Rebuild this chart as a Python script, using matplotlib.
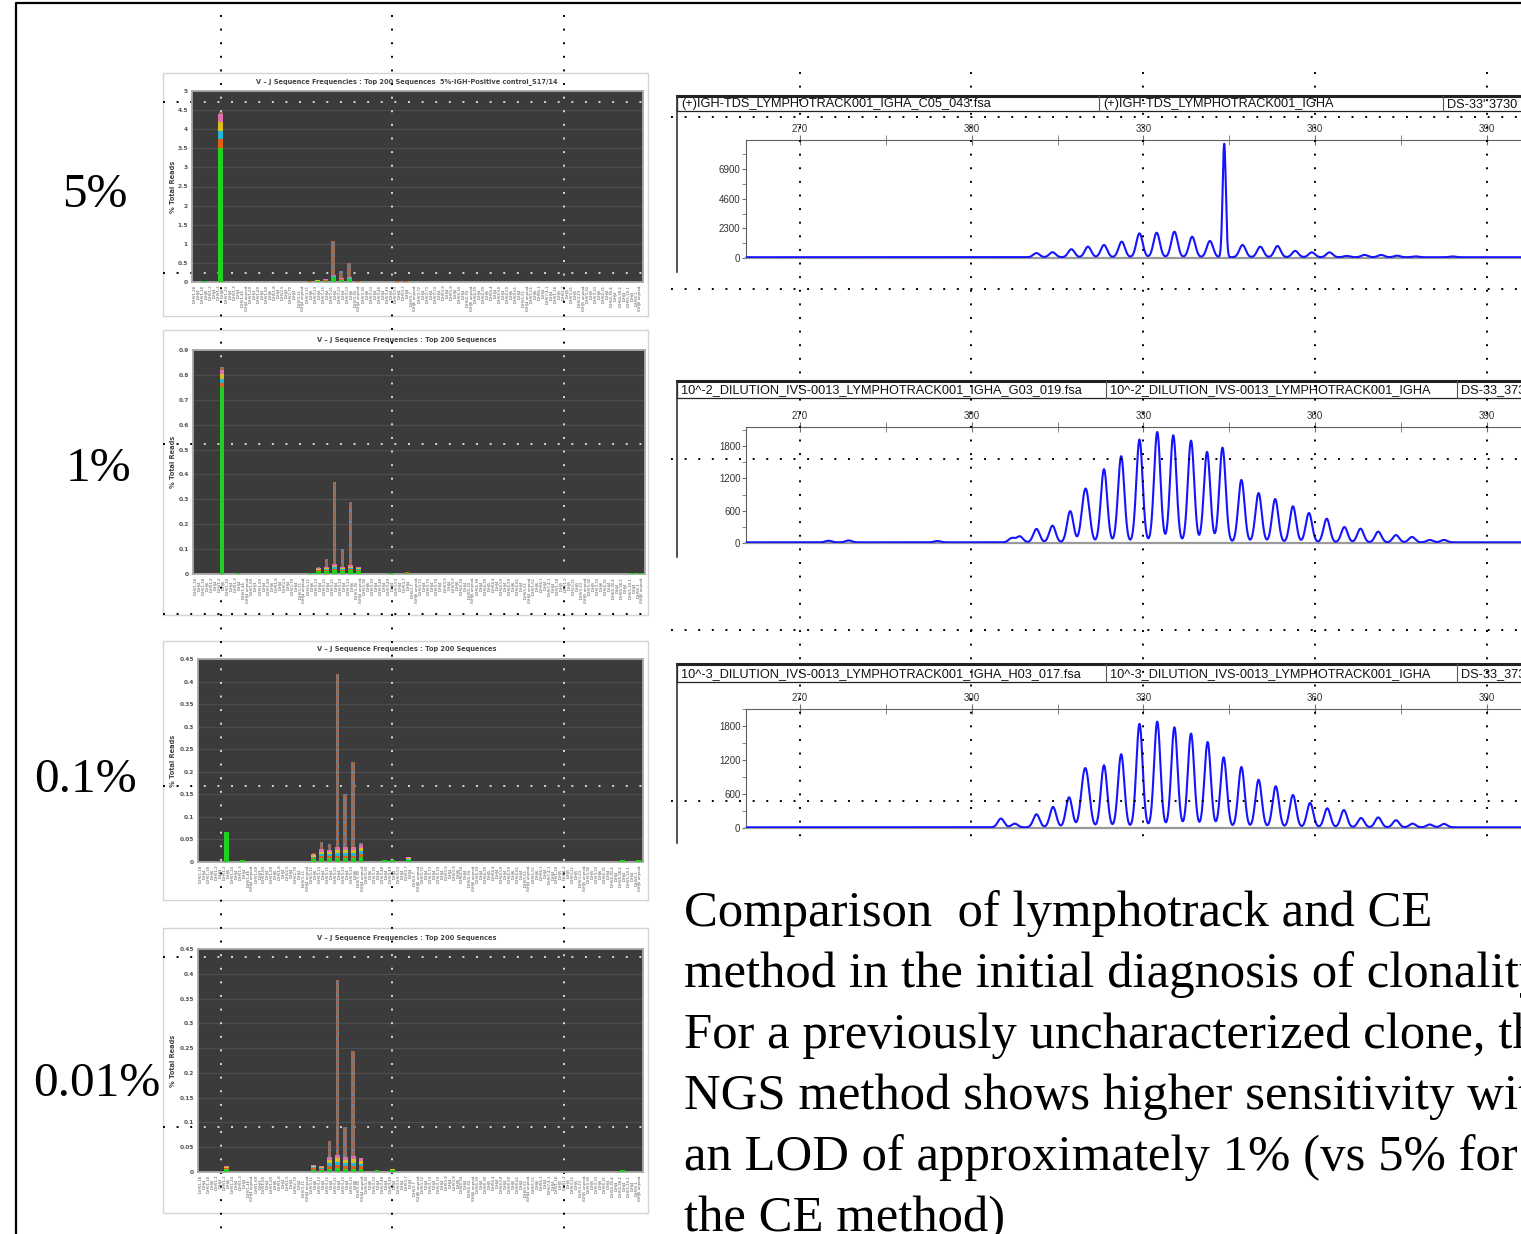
import numpy as np
import matplotlib
matplotlib.use("Agg")
import matplotlib.pyplot as plt
from matplotlib.lines import Line2D
from matplotlib.patches import Rectangle
from matplotlib.ticker import FormatStrFormatter, FixedLocator

W, H = 1521, 1234

# ---- data ----
dilutions = ["5%", "1%", "0.1%", "0.01%"]

vj_labels = [
    "IGHV1-18\nIGHJ4", "IGHV1-18\nIGHJ6", "IGHV1-2\nIGHJ4", "IGHV1-2\nIGHJ6", "IGHV1-24\nIGHJ4",
    "IGHV1-3\nIGHJ4", "IGHV1-46\nIGHJ4 unprod.", "IGHV1-69\nIGHJ3", "IGHV1-69\nIGHJ4", "IGHV1-69\nIGHJ6",
    "IGHV1-8\nIGHJ4", "IGHV2-5\nIGHJ4", "IGHV2-70\nIGHJ4", "IGHV3-11\nIGHJ4 unprod.", "IGHV3-11\nIGHJ6",
    "IGHV3-13\nIGHJ4", "IGHV3-15\nIGHJ4", "IGHV3-21\nIGHJ4", "IGHV3-23\nIGHJ4", "IGHV3-23\nIGHJ6",
    "IGHV3-30\nIGHJ4 unprod.", "IGHV3-30\nIGHJ6", "IGHV3-33\nIGHJ4", "IGHV3-48\nIGHJ4", "IGHV3-49\nIGHJ4",
    "IGHV3-53\nIGHJ4", "IGHV3-7\nIGHJ4", "IGHV3-7\nIGHJ6 unprod.", "IGHV3-72\nIGHJ4", "IGHV3-73\nIGHJ4",
    "IGHV3-74\nIGHJ4", "IGHV3-9\nIGHJ4", "IGHV3-9\nIGHJ6", "IGHV4-34\nIGHJ4", "IGHV4-34\nIGHJ6 unprod.",
    "IGHV4-39\nIGHJ4", "IGHV4-39\nIGHJ5", "IGHV4-4\nIGHJ4", "IGHV4-59\nIGHJ4", "IGHV4-59\nIGHJ6",
    "IGHV4-61\nIGHJ4", "IGHV5-51\nIGHJ4 unprod.", "IGHV5-51\nIGHJ6", "IGHV6-1\nIGHJ4", "IGHV7-4-1\nIGHJ4",
    "IGHV1-18\nIGHJ5", "IGHV1-2\nIGHJ5", "IGHV3-21\nIGHJ5", "IGHV3-23\nIGHJ5 unprod.", "IGHV3-30\nIGHJ5",
    "IGHV3-33\nIGHJ6", "IGHV4-31\nIGHJ4", "IGHV4-30-4\nIGHJ4", "IGHV4-38-2\nIGHJ4", "IGHV5-10-1\nIGHJ4",
    "IGHV6-1\nIGHJ6 unprod.",
]

panel_titles = [
    "V \u2013 J Sequence Frequencies : Top 200 Sequences  5%-IGH-Positive control_S17/14",
    "V \u2013 J Sequence Frequencies : Top 200 Sequences",
    "V \u2013 J Sequence Frequencies : Top 200 Sequences",
    "V \u2013 J Sequence Frequencies : Top 200 Sequences",
]

# % total reads: bar position, green (main clone) part, bright band, total height
p1_idx = [1, 3, 14, 15, 16, 17, 18, 19, 20, 25, 26]
p1_green = [0.02, 3.52, 0.01, 0.02, 0.03, 0.12, 0.06, 0.08, 0.01, 0.01, 0.01]
p1_band = [0.00, 0.88, 0.02, 0.03, 0.04, 0.06, 0.04, 0.04, 0.02, 0.02, 0.02]
p1_total = [0.02, 4.45, 0.03, 0.06, 0.09, 1.07, 0.30, 0.50, 0.03, 0.03, 0.03]

p2_idx = [3, 5, 14, 15, 16, 17, 18, 19, 20, 24, 26, 54, 55]
p2_green = [0.75, 0.004, 0.004, 0.012, 0.012, 0.015, 0.012, 0.015, 0.012, 0.004, 0.006, 0.005, 0.005]
p2_band = [0.07, 0.0, 0.0, 0.012, 0.015, 0.025, 0.015, 0.02, 0.015, 0.0, 0.004, 0.0, 0.0]
p2_total = [0.83, 0.004, 0.004, 0.03, 0.06, 0.37, 0.10, 0.29, 0.03, 0.004, 0.01, 0.005, 0.005]

p3_idx = [3, 5, 14, 15, 16, 17, 18, 19, 20, 23, 24, 26, 53, 55]
p3_green = [0.066, 0.004, 0.006, 0.008, 0.008, 0.008, 0.008, 0.008, 0.01, 0.004, 0.004, 0.004, 0.005, 0.005]
p3_band = [0.0, 0.0, 0.012, 0.02, 0.018, 0.025, 0.025, 0.025, 0.028, 0.0, 0.0, 0.006, 0.0, 0.0]
p3_total = [0.066, 0.004, 0.02, 0.045, 0.04, 0.417, 0.15, 0.221, 0.042, 0.004, 0.004, 0.01, 0.005, 0.005]

p4_idx = [3, 14, 15, 16, 17, 18, 19, 20, 22, 24, 53]
p4_green = [0.006, 0.005, 0.005, 0.006, 0.008, 0.006, 0.006, 0.006, 0.004, 0.004, 0.005]
p4_band = [0.006, 0.01, 0.007, 0.025, 0.026, 0.024, 0.026, 0.022, 0.0, 0.002, 0.0]
p4_total = [0.012, 0.015, 0.012, 0.062, 0.387, 0.09, 0.244, 0.027, 0.004, 0.006, 0.005]

p_ymax = [5.0, 0.9, 0.45, 0.45]
p_ystep = [0.5, 0.1, 0.05, 0.05]

# CE electropherograms: fragment size (bp) and peak height (RFU)
ce1_size = [311.3, 314.1, 317.4, 320.3, 323.1, 326.2, 329.3, 332.3, 335.4, 338.5, 341.6,
            347.3, 350.4, 353.4, 356.5, 359.4, 362.5, 365.5, 368.6, 371.5, 374.3, 377.5, 384.0]
ce1_height = [320, 390, 620, 820, 950, 1210, 1850, 1900, 1980, 1590, 1260,
              950, 820, 870, 490, 380, 380, 100, 180, 180, 120, 70, 60]
ce1_spike_size = [344.1]
ce1_spike_height = [8800]

ce2_size = [275.0, 278.5, 294.0, 307.0, 308.4, 311.3, 314.1, 317.2, 319.6, 320.2, 323.1, 326.1, 329.3,
            332.4, 335.2, 338.3, 341.1, 343.8, 347.1, 350.1, 353.0, 356.1, 358.9, 362.0, 365.1,
            367.9, 371.0, 374.1, 376.9, 380.0, 382.5]
ce2_height = [30, 35, 25, 80, 110, 250, 310, 580, 600, 560, 1360, 1600, 1910,
              2050, 1990, 1890, 1680, 1760, 1160, 915, 805, 670, 545, 440, 285,
              255, 200, 135, 100, 45, 45]

ce3_size = [305.1, 307.5, 311.3, 314.2, 317.0, 319.5, 320.2, 323.1, 326.1, 329.3, 332.4, 335.4,
            338.3, 341.2, 344.0, 347.1, 350.1, 353.1, 356.1, 359.1, 362.1, 365.0, 368.0, 371.0,
            374.1, 377.0, 380.0, 382.5]
ce3_height = [155, 65, 230, 360, 530, 660, 620, 1095, 1290, 1825, 1865, 1765,
              1655, 1505, 1235, 1065, 840, 725, 570, 430, 335, 305, 165, 175,
              125, 65, 50, 60]

ce_headers = [
    ["(+)IGH-TDS_LYMPHOTRACK001_IGHA_C05_043.fsa", "(+)IGH-TDS_LYMPHOTRACK001_IGHA", "DS-33' 3730"],
    ["10^-2_DILUTION_IVS-0013_LYMPHOTRACK001_IGHA_G03_019.fsa",
     "10^-2_DILUTION_IVS-0013_LYMPHOTRACK001_IGHA", "DS-33_3730"],
    ["10^-3_DILUTION_IVS-0013_LYMPHOTRACK001_IGHA_H03_017.fsa",
     "10^-3_DILUTION_IVS-0013_LYMPHOTRACK001_IGHA", "DS-33_3730"],
]
ce_ymax = [9150, 2155, 2010]
ce_yticks = [[0, 2300, 4600, 6900], [0, 600, 1200, 1800], [0, 600, 1200, 1800]]
size_ticks = [270, 300, 330, 360, 390]

desc_lines = [
    "Comparison  of lymphotrack and CE",
    "method in the initial diagnosis of clonality",
    "For a previously uncharacterized clone, the",
    "NGS method shows higher sensitivity with",
    "an LOD of approximately 1% (vs 5% for",
    "the CE method)",
]


# ---- helpers (pixel coords -> figure fraction) ----
def fx(x):
    return x / W


def fy(y):
    return 1 - y / H


def rect(x0, y0, x1, y1):
    return [x0 / W, 1 - y1 / H, (x1 - x0) / W, (y1 - y0) / H]


fig = plt.figure(figsize=(15.21, 12.34), dpi=100)
serif = ["Liberation Serif", "DejaVu Serif"]
sans = ["Liberation Sans", "DejaVu Sans"]


def dots(x0, y0, x1, y1, color, parent):
    ln = Line2D([fx(x0), fx(x1)], [fy(y0), fy(y1)], transform=fig.transFigure,
                color=color, lw=1.4, linestyle=(0, (1, 6)), dash_capstyle="butt", zorder=1.5)
    if parent is fig:
        fig.add_artist(ln)
    else:
        parent.add_artist(ln)


left_v = [221, 392, 564]
left_h = [102, 273, 444, 614, 786, 957, 1127]
right_v = [800, 971, 1143, 1315, 1487]
right_h = [117, 289, 459, 630, 801]


def left_grid(parent, color):
    for x in left_v:
        dots(x, 15, x, 1234, color, parent)
    for y in left_h:
        dots(163, y, 650, y, color, parent)


# ---- outer frame ----
fig.add_artist(Line2D([fx(16), fx(16), fx(1521)], [fy(1234), fy(3), fy(3)],
                      transform=fig.transFigure, color="black", lw=1.6, zorder=1))

# ---- NGS bar panels ----
bar_boxes = [(163, 73, 648, 316), (163, 330, 648, 615), (163, 641, 648, 900), (163, 928, 648, 1213)]
bar_plots = [(192, 91, 643, 282), (193, 350, 645, 574), (198, 659, 643, 862), (198, 949, 643, 1172)]
title_y = [82, 340, 649, 938]
label_xy = [(95, 207), (98, 481), (85, 792), (97, 1096)]
band_colors = ["#e0601a", "#20b8d8", "#d8c020", "#e070b0"]

panels = [
    (p1_idx, p1_green, p1_band, p1_total),
    (p2_idx, p2_green, p2_band, p2_total),
    (p3_idx, p3_green, p3_band, p3_total),
    (p4_idx, p4_green, p4_band, p4_total),
]

for k, (idx, green, band, total) in enumerate(panels):
    bx = bar_boxes[k]
    fig.add_artist(Rectangle((fx(bx[0]), fy(bx[3])), (bx[2] - bx[0]) / W, (bx[3] - bx[1]) / H,
                             transform=fig.transFigure, facecolor="white",
                             edgecolor="#d4d4d4", lw=1.0, zorder=1))
    ax = fig.add_axes(rect(*bar_plots[k]))
    ax.set_zorder(3)
    ax.set_facecolor("#3b3b3b")
    for s in ax.spines.values():
        s.set_color("#a8a8a8")
        s.set_linewidth(1.3)
    idx = np.array(idx)
    green = np.array(green)
    band = np.array(band)
    total = np.array(total)
    rest = np.clip(total - green - band, 0, None)
    ax.bar(idx, green, width=0.6, color="#22d022", zorder=3)
    for j, c in enumerate(band_colors):
        ax.bar(idx, band / 4, bottom=green + band * j / 4, width=0.6, color=c, zorder=3)
    ax.bar(idx, rest, bottom=green + band, width=0.45, facecolor="#9c6a50",
           edgecolor="#4a90c8", hatch="...", lw=0, zorder=3)
    ax.set_xlim(-0.6, len(vj_labels) - 0.4)
    ax.set_ylim(0, p_ymax[k])
    ax.yaxis.set_major_locator(FixedLocator(np.arange(0, p_ymax[k] + 1e-9, p_ystep[k])))
    ax.yaxis.set_major_formatter(FormatStrFormatter("%g"))
    ax.grid(axis="y", color="#4d4d4d", lw=0.9)
    ax.set_axisbelow(True)
    ax.set_xticks(range(len(vj_labels)))
    ax.set_xticklabels(vj_labels, rotation=90, fontsize=2.7, color="#505050", linespacing=1.0)
    ax.tick_params(axis="x", length=0, pad=2)
    ax.tick_params(axis="y", length=0, pad=3, labelsize=4.2, labelcolor="#555555")
    for t in ax.get_yticklabels():
        t.set_fontweight("bold")
    left_grid(ax, "#d8d8d8")
    cy = (bar_plots[k][1] + bar_plots[k][3]) / 2
    fig.text(fx(173), fy(cy), "% Total Reads", rotation=90, ha="center", va="center",
             fontsize=4.8, fontweight="bold", color="#444444", zorder=4)
    fig.text(fx(407), fy(title_y[k]), panel_titles[k], ha="center", va="center",
             fontsize=4.8, fontweight="bold", color="#444444", zorder=4)
    fig.text(fx(label_xy[k][0]), fy(label_xy[k][1]), dilutions[k], ha="center", va="baseline",
             fontsize=35.5, family=serif, color="black")

left_grid(fig, "black")

# ---- CE electropherograms ----
ce_plots = [(746, 140, 1560, 258), (746, 427, 1560, 543), (746, 709, 1560, 828)]
ce_hdr = [(96, 111), (381, 398), (664, 682)]
ce_div = [(1099, 1443), (1106, 1457), (1106, 1457)]
ce_frame_bottom = [272, 557, 843]
ce_data = [(ce1_size, ce1_height, 60), (ce2_size, ce2_height, 12), (ce3_size, ce3_height, 12)]
peak_sigma = 0.55
spike_sigma = 0.28
px_per_bp = (1487 - 800) / (390 - 270)

for k in range(3):
    x0, y0, x1, y1 = ce_plots[k]
    ax = fig.add_axes(rect(x0, y0, x1, y1))
    ax.set_zorder(0)
    ax.set_xlim(270 - (800 - x0) / px_per_bp, 270 + (x1 - 800) / px_per_bp)
    ax.set_ylim(0, ce_ymax[k])
    sizes, heights, base = ce_data[k]
    xs = np.linspace(ax.get_xlim()[0], ax.get_xlim()[1], 5000)
    ys = np.full_like(xs, float(base))
    for s, h in zip(sizes, heights):
        ys += h * np.exp(-0.5 * ((xs - s) / peak_sigma) ** 2)
    if k == 0:
        for s, h in zip(ce1_spike_size, ce1_spike_height):
            ys += h * np.exp(-0.5 * ((xs - s) / spike_sigma) ** 2)
    ax.plot(xs, ys, color="#1414ff", lw=1.5, zorder=3)
    ax.spines["right"].set_visible(False)
    ax.spines["bottom"].set_color("#9a9a9a")
    ax.spines["bottom"].set_linewidth(1.6)
    ax.spines["left"].set_color("#606060")
    ax.spines["top"].set_color("#606060")
    ax.xaxis.tick_top()
    ax.set_xticks(size_ticks)
    ax.set_xticks([285, 315, 345, 375], minor=True)
    ax.tick_params(axis="x", which="both", direction="inout", length=7, color="#707070",
                   labelsize=7, pad=0.5, labelcolor="#333333")
    ax.set_yticks(ce_yticks[k])
    step = ce_yticks[k][1]
    ax.set_yticks([v + step / 2 for v in ce_yticks[k]], minor=True)
    ax.tick_params(axis="y", which="both", length=3, color="#707070", labelsize=7,
                   pad=1, labelcolor="#333333")
    for t in ax.get_xticklabels() + ax.get_yticklabels():
        t.set_family(sans)

    # header strip
    h0, h1 = ce_hdr[k]
    fig.add_artist(Rectangle((fx(677), fy(h1)), (1560 - 677) / W, (h1 - h0) / H,
                             transform=fig.transFigure, facecolor="white", edgecolor="#222222",
                             lw=0.9, zorder=1))
    fig.add_artist(Line2D([fx(677), fx(1521)], [fy(h0), fy(h0)], transform=fig.transFigure,
                          color="#222222", lw=2.2, zorder=1))
    for xd in ce_div[k]:
        fig.add_artist(Line2D([fx(xd), fx(xd)], [fy(h0), fy(h1)], transform=fig.transFigure,
                              color="#555555", lw=0.8, zorder=1))
    cell_x = [681, ce_div[k][0] + 4, ce_div[k][1] + 4]
    for xt, txt in zip(cell_x, ce_headers[k]):
        fig.text(fx(xt), fy((h0 + h1) / 2 + 1), txt, ha="left", va="center", fontsize=9.2,
                 family=sans, color="#111111", zorder=2)
    fig.add_artist(Line2D([fx(677), fx(677)], [fy(h0), fy(ce_frame_bottom[k])],
                          transform=fig.transFigure, color="#333333", lw=1.2, zorder=1))

for x in right_v:
    dots(x, 72, x, 846, "black", fig)
for y in right_h:
    dots(671, y, 1521, y, "black", fig)

# ---- description text ----
for i, line in enumerate(desc_lines):
    fig.text(fx(684), fy(926 + 61 * i), line, ha="left", va="baseline", fontsize=36.5,
             family=serif, color="black")

fig.savefig("out.png", dpi=100)
